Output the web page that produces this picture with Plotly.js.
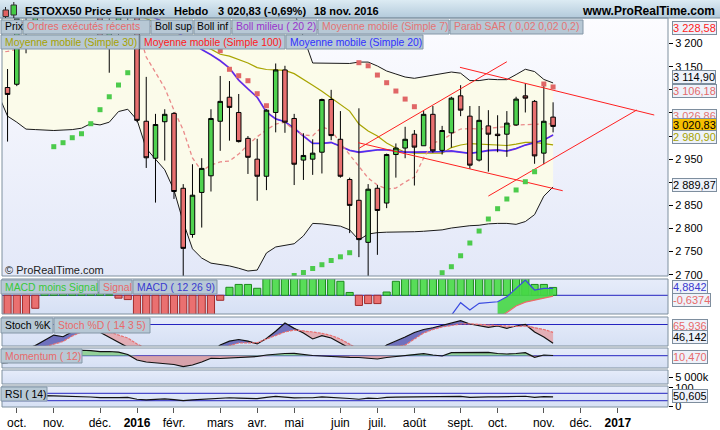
<!DOCTYPE html>
<html><head><meta charset="utf-8">
<script src="https://cdn.plot.ly/plotly-3.0.1.min.js"></script>
<style>html,body{margin:0;padding:0;background:#fff;}#chart{width:720px;height:430px;}</style>
</head><body><div id="chart"></div>
<script>
// ---------- DATA (weekly candles, Monday of each week) ----------
const dates = ['2015-09-21','2015-09-28','2015-10-05','2015-10-12','2015-10-19','2015-10-26','2015-11-02','2015-11-09','2015-11-16','2015-11-23','2015-11-30','2015-12-07','2015-12-14','2015-12-21','2015-12-28',
'2016-01-04','2016-01-11','2016-01-18','2016-01-25','2016-02-01','2016-02-08','2016-02-15','2016-02-22','2016-02-29','2016-03-07','2016-03-14','2016-03-21','2016-03-28','2016-04-04','2016-04-11','2016-04-18','2016-04-25','2016-05-02','2016-05-09','2016-05-16','2016-05-23','2016-05-30','2016-06-06','2016-06-13','2016-06-20','2016-06-27','2016-07-04','2016-07-11','2016-07-18','2016-07-25','2016-08-01','2016-08-08','2016-08-15','2016-08-22','2016-08-29','2016-09-05','2016-09-12','2016-09-19','2016-09-26','2016-10-03','2016-10-10','2016-10-17','2016-10-24','2016-10-31','2016-11-07','2016-11-14'];
const open = [3105,3105,3112,3250,3240,3410,3418,3420,3360,3450,3470,3290,3205,3235,3285,
3288,3032,2952,3031,3049,2887,2787,2878,2914,3032,3084,3051,2995,2950,2913,3051,3143,3038,2948,2950,2965,3079,2993,2906,2861,2770,2887,2855,2960,2974,3004,2979,3047,2969,3007,3087,3043,2948,3022,3004,3004,3024,3087,3075,2963,3041];
const high = [3160,3145,3265,3275,3420,3440,3475,3440,3460,3480,3506,3300,3280,3290,3300,
3292,3128,3048,3058,3052,2896,2939,2952,3058,3130,3119,3091,3000,2994,3058,3157,3152,3048,3006,2993,3081,3100,3054,2910,3060,2896,2894,2962,2984,3020,3013,3054,3065,3022,3085,3110,3065,3065,3056,3045,3054,3085,3114,3078,3114,3073];
const low = [3030,2988,3108,3179,3225,3370,3390,3330,3330,3420,3255,3195,3137,3210,3245,
3030,2931,2856,2947,2864,2672,2780,2802,2880,2968,2990,2986,2918,2860,2883,3008,3007,2894,2905,2916,2919,2991,2910,2790,2738,2678,2743,2844,2910,2952,2893,2979,2964,2960,2975,3043,2929,2945,2923,2965,2955,3022,3051,2940,2939,3008];
const close = [3100,3090,3255,3240,3410,3418,3420,3360,3450,3470,3290,3205,3235,3285,3268,
3034,2953,3025,3047,2880,2757,2872,2930,3038,3075,3062,2988,2954,2913,3056,3143,3030,2939,2958,2963,3079,3001,2913,2850,2776,2885,2839,2960,2974,2993,2976,3047,2968,3012,3082,3056,2937,3034,3004,3001,3028,3080,3082,2957,3032,3020.83];

const bollUp = [3750,3757,3740,3725,3706,3687,3678,3657,3636,3613,3573,3556,3540,3507,3502,
3515,3557,3560,3563,3577,3616,3644,3638,3628,3605,3575,3528,3496,3459,3357,3313,3299,3267,3215,3158,3158,3158,3158,3157,3160,3160,3151.5,3140.7,3134.2,3127.7,3124.9,3128.4,3130.5,3134.2,3138.5,3136,3120,3120,3123,3122,3122,3133,3144.5,3139.5,3122.5,3114.90];
const bollLow = [3090,3043,3030,3015,3014,3013,3012,3013,3014,3017,3027,3024,3030,3053,3058,
3035,2973,2950,2927,2883,2814,2756,2736,2725,2722,2719,2714,2708,2710,2747,2760,2764,2767,2784,2811,2810,2807,2805,2797,2775,2788,2791,2792,2792,2792,2793,2794,2796,2797,2801,2804,2806,2807,2810,2811,2811,2809,2815,2830,2870,2889.87];
const sma20 = [3420,3400,3385,3370,3360,3350,3345,3335,3325,3315,3300,3290,3285,3280,3280,
3275,3265,3255,3245,3230,3215,3200,3187,3176,3163,3147,3121,3102,3084,3052,3037,3031,3017,3000,2984,2984,2986,2978,2969,2965,2967,2970,2970,2968,2965,2965,2965,2966,2966.5,2967.6,2965.4,2962.6,2965.4,2968.7,2969.8,2967.6,2973,2980.6,2986,2991.4,3002.38];
const sma7 = [3182,3183,3188,3200,3225,3258,3290,3320,3350,3385,3400,3390,3372,3350,3300,
3240,3171,3139,3104,3056,3013,2952.5,2924.3,2937.3,2944,2946,2961,2980.6,2998.5,3013,3026,3029.7,3013,3002.2,3000.7,3019.5,3013,2985,2959,2933,2909,2894,2885.4,2887.5,2900.5,2911.4,2952.5,2985,2991.4,3004.4,3015.2,3016.3,3015.2,3016.7,3018,3020.6,3023.9,3025,3025.6,3026,3026.86];
const sma30 = [3408,3395,3382,3370,3358,3345,3332,3320,3310,3300,3292,3285,3278,3272,3268,
3262,3254,3246,3238,3228,3215,3205,3195,3188,3177,3173,3165,3158,3148,3144,3143,3142,3135,3123,3110,3097,3082,3067,3054,3026,3011,3000,2985,2974,2965,2963,2963,2963,2963,2975,2980.6,2983.8,2982.7,2981.6,2980.6,2979.5,2982.7,2986.4,2986.4,2984.3,2980.90];
const sma100 = [3246,3246,3245,3245,3244,3244,3243,3243,3242,3242,3241,3241,3240,3240,3239,
3239,3238,3237,3237,3236,3235,3234,3234,3233,3233,3233,3232,3232,3232,3231,3231,3231,3231,3230,3230,3230,3230,3230,3229.8,3229.6,3229.5,3229.4,3229.3,3229.2,3229.1,3229,3229,3229,3229,3228.9,3228.9,3228.8,3228.8,3228.7,3228.7,3228.7,3228.6,3228.6,3228.6,3228.6,3228.58];
const sar = [3560,3540,3520,3505,3490,3475,2977,2985.6,2996.4,3005,3026.7,3057,3085,3110.4,3137,
3506,3490,3460,3420,3380,3330,3280,3240,3205,3184.6,3144.4,3130.5,3119.7,3091.6,3065.6,2672,2682,2698.3,2704.7,2713.4,2721.6,2730.7,2738.7,2747.6,3158.7,3152,3132,3115.4,3097.4,3080,3063.5,2678,2689,2704.3,2717.3,2741,2768.6,2794.5,2820.5,2842.8,2863.8,2883.3,2901.2,2922.8,3112.6,3106.18];
const sarUp = [0,0,0,0,0,0,1,1,1,1,1,1,1,1,1,
0,0,0,0,0,0,0,0,0,0,0,0,0,0,0,1,1,1,1,1,1,1,1,1,0,0,0,0,0,0,0,1,1,1,1,1,1,1,1,1,1,1,1,1,0,0];

const macdHist = [-16,-15,-15,-14,-9.1,3,5,5,4,4,3,2,0.5,-2,-3,
-20,-30,-32,-30,-30,-32,-28,-22,-15,-3.5,5.6,7.6,7.6,4.9,14,18,20,19,17,15,16,15,9.8,2,-7.1,-5.8,-5.8,2.3,9.8,14,17,20,21,22,24,25,22,21,20,19,18,17,16,7.6,7.6,5.5];
const macdLine = [-150,-140,-122,-105,-86,-68,-55,-48,-40,-33,-30,-30,-30,-33,-34,
-52,-72,-82,-88,-100,-120,-125,-122,-110,-98,-86,-78,-73,-72,-60,-45,-36,-34,-33,-32,-26,-24,-26,-34,-46,-48,-50,-42,-35,-28,-24,-18,-17,-15,-14,-5.2,-10.3,-5.6,-4.9,-4.5,-1.0,4.9,10.7,3.7,4.9,4.8842];
const macdSignal = [-130,-128,-124,-120,-113,-104,-95,-86,-77,-68,-60,-54,-49,-46,-43,
-45,-50,-56,-62,-70,-80,-89,-96,-99,-99,-97,-93,-90,-86,-81,-74,-66,-60,-55,-50,-46,-42,-39,-38,-40,-42,-44,-44,-43,-41,-38,-35,-32,-29,-26,-22,-20,-18,-17,-16,-12,-7.5,-4.8,-3.4,-2,-0.6374];
const stochK = [20,25,32,36,42,52,61,58,67,72,73,66,57,47,38,
30,22,18,20,18,12,15,22,30,43,50,53,50,45,55,68,82.7,73,64.7,54,60,55.7,45.8,38,28,25,30,43,50,57.5,65.6,71,74.2,78.2,82.2,86.8,80.9,77.8,75,77.3,73.2,77.3,80,66.5,57.5,46.142];
const stochD = [22,22,25,30,35,40,44,49.4,59.3,66.5,70,69.2,66.5,61,55.7,
44.9,35,27,22,19,16,15,17,22,32,42,46.7,46.7,47.2,54,60,66.5,70,68.8,66.5,64.1,60.2,53.9,43,35,30,28,33,40,43,54,64.7,71,75.5,78.2,80.9,81.3,79.6,79.1,78.2,76.8,76.4,77.3,74.6,71,65.936];
const momentum = [-400,-385,-200,-100,60,150,250,260,280,300,275,220,230,200,66,
-236,-346,-385,-430,-484,-605,-511,-346,-143,-154,-126,-115,-88,-44,38,94,121,132,66,11,-16,-44,-88,-88,-99,-154,-181,-99,-44,38,94,110,38,-16,165,165,149,176,187,121,94,121,165,-88,38,10.47];
const rsi = [42,45,55,57,58,57,56,55,55,54,50,47,45,47,48,
38,34,38,40,36,30,35,38,44,46,46,44,43,41,48,53,49,45,46,46,51,49,45,42,38,44,42,48,49,50,49,52,49,51,54,53,48,51,51,51,52,54,54,48,52,50.605];

// user-drawn trend lines: [date1, price1, date2, price2]
const trendLines = [
  ['2016-06-20 02:00', 2973.5, '2016-10-10 00:00', 3160.8],
  ['2016-09-04 12:00', 3148.7, '2017-01-29 14:00', 3045.5],
  ['2016-06-19 12:00', 2985.6, '2016-11-21 07:00', 2881.7],
  ['2016-09-26 00:00', 2870.2, '2017-01-16 08:00', 3056.3]
];
const monthTicks = ['2015-10-05','2015-11-02','2015-12-07','2016-01-04','2016-02-01','2016-03-07','2016-04-04','2016-05-02','2016-06-06','2016-07-04','2016-08-01','2016-09-05','2016-10-03','2016-11-07','2016-12-05','2017-01-02'];
const monthLabels = ['oct.','nov.','déc.','<b>2016</b>','févr.','mars','avr.','mai','juin','juil.','août','sept.','oct.','nov.','déc.','<b>2017</b>'];
// price axis ticks (labels hidden behind value tags are left blank)
const priceTicks = [2700,2750,2800,2850,2900,2950,3000,3050,3100,3150,3200];
const priceTickText = ['2 700','2 750','2 800','2 850','2 900','2 950','','','','3 150','3 200'];

// ---------- LAYOUT HELPERS ----------
const W=720,H=430,ML=2,MR=52,PW=W-ML-MR;
const px = x => (x-ML)/PW;
const py = y => 1 - y/H;
const FONT = 'Arial, "Liberation Sans", sans-serif';
const xRange = ['2015-09-23 19:12','2017-02-09 00:00'];
const mainRange=[2697.2,3255.4], macdRange=[-13.08,11.4], stochRange=[41.3,93.5], momRange=[-677,424], volRange=[0,10000], rsiRange=[-4,109.5];
const last = a => a[a.length-1];
function fmt(v,d){const s=v.toFixed(d).split('.');const i=s[0].replace(/\B(?=(\d{3})+(?!\d))/g,' ');return s.length>1?i+','+s[1]:i;}
function grad(top,bottom){
  const svg='<svg xmlns="http://www.w3.org/2000/svg" width="10" height="100" preserveAspectRatio="none"><defs><linearGradient id="g" x1="0" y1="0" x2="0" y2="1"><stop offset="0" stop-color="'+top+'"/><stop offset="1" stop-color="'+bottom+'"/></linearGradient></defs><rect width="10" height="100" fill="url(#g)"/></svg>';
  return 'data:image/svg+xml;charset=utf-8,'+encodeURIComponent(svg);
}
function bgImg(x0,x1,y0,y1,top,bottom){
  return {source:grad(top,bottom),xref:'paper',yref:'paper',x:px(x0),y:py(y0),sizex:(x1-x0)/PW,sizey:(y1-y0)/H,xanchor:'left',yanchor:'top',sizing:'stretch',layer:'below'};
}

// ---------- TRACES ----------
const base = {hoverinfo:'skip',showlegend:false};
const noLine = {width:0,color:'rgba(0,0,0,0)'};
const traces = [];
traces.push(Object.assign({type:'scatter',mode:'lines',x:dates,y:bollLow,line:noLine},base));
traces.push(Object.assign({type:'scatter',mode:'lines',x:dates,y:bollUp,fill:'tonexty',fillcolor:'rgba(252,252,232,0.9)',line:noLine},base));
traces.push(Object.assign({type:'scatter',mode:'lines',x:dates,y:sma100,line:{width:1,color:'#ff1a1a'}},base));
traces.push(Object.assign({type:'scatter',mode:'lines',x:dates,y:sma30,line:{width:1.2,color:'#a8a400'}},base));
traces.push(Object.assign({type:'scatter',mode:'lines',x:dates,y:sma20,line:{width:1.8,color:'#9933cc'}},base));
traces.push(Object.assign({type:'scatter',mode:'lines',x:dates,y:sma20,line:{width:1,color:'#3535ff'}},base));
traces.push(Object.assign({type:'scatter',mode:'lines',x:dates,y:sma7,line:{width:1.3,color:'#ea8a8a',dash:'4px,3px'}},base));
traces.push(Object.assign({type:'scatter',mode:'lines',x:dates,y:bollUp,line:{width:1,color:'#1a1a1a'}},base));
traces.push(Object.assign({type:'scatter',mode:'lines',x:dates,y:bollLow,line:{width:1,color:'#1a1a1a'}},base));
traces.push({type:'candlestick',x:dates,open:open,high:high,low:low,close:close,whiskerwidth:0,yaxis:'y7',
  increasing:{line:{color:'#000',width:1},fillcolor:'#4fd24f'},
  decreasing:{line:{color:'#000',width:1},fillcolor:'#e87070'},hoverinfo:'skip',showlegend:false});
trendLines.forEach(t=>traces.push(Object.assign({type:'scatter',mode:'lines',x:[t[0],t[2]],y:[t[1],t[3]],yaxis:'y7',line:{width:1,color:'#ff2020'}},base)));
traces.push(Object.assign({type:'scatter',mode:'markers',x:dates,y:sar.map((v,i)=>sarUp[i]?v:null),yaxis:'y7',marker:{symbol:'square',size:5,color:'#4ccb4c'}},base));
traces.push(Object.assign({type:'scatter',mode:'markers',x:dates,y:sar.map((v,i)=>sarUp[i]?null:v),yaxis:'y7',marker:{symbol:'square',size:5,color:'#e06666'}},base));

const barW = 5.4*86400000;
traces.push(Object.assign({type:'bar',x:dates,y:macdHist.map(v=>v>=0?v:null),yaxis:'y2',width:barW,marker:{color:'#58dd58',line:{color:'#1c8a1c',width:1}}},base));
traces.push(Object.assign({type:'bar',x:dates,y:macdHist.map(v=>v<0?v:null),yaxis:'y2',width:barW,marker:{color:'#ea7070',line:{color:'#a02c2c',width:1}}},base));
const i0 = Math.max(0, macdSignal.findIndex(v=>v>macdRange[0]) - 1);
traces.push(Object.assign({type:'scatter',mode:'lines',x:dates.slice(i0),y:macdSignal.slice(i0),yaxis:'y2',line:noLine},base));
traces.push(Object.assign({type:'scatter',mode:'lines',x:dates.slice(i0),y:macdLine.slice(i0),yaxis:'y2',fill:'tonexty',fillcolor:'rgba(70,215,70,0.9)',line:noLine},base));
traces.push(Object.assign({type:'scatter',mode:'lines',x:dates,y:macdLine,yaxis:'y2',line:{width:1.2,color:'#3a4ae0'}},base));
traces.push(Object.assign({type:'scatter',mode:'lines',x:dates,y:macdSignal,yaxis:'y2',line:{width:1.2,color:'#ee6a6a'}},base));

const stochMax = stochK.map((k,i)=>Math.max(k,stochD[i]));
traces.push(Object.assign({type:'scatter',mode:'lines',x:dates,y:stochD,yaxis:'y3',line:noLine},base));
traces.push(Object.assign({type:'scatter',mode:'lines',x:dates,y:stochMax,yaxis:'y3',fill:'tonexty',fillcolor:'rgba(88,88,178,0.82)',line:noLine},base));
traces.push(Object.assign({type:'scatter',mode:'lines',x:dates,y:stochK,yaxis:'y3',line:noLine},base));
traces.push(Object.assign({type:'scatter',mode:'lines',x:dates,y:stochMax,yaxis:'y3',fill:'tonexty',fillcolor:'rgba(228,165,170,0.85)',line:noLine},base));
traces.push(Object.assign({type:'scatter',mode:'lines',x:dates,y:stochK,yaxis:'y3',line:{width:1.2,color:'#111'}},base));
traces.push(Object.assign({type:'scatter',mode:'lines',x:dates,y:stochD,yaxis:'y3',line:{width:1.2,color:'#e87070',dash:'3px,1px'}},base));

traces.push(Object.assign({type:'scatter',mode:'lines',x:dates,y:momentum.map(v=>Math.max(v,0)),yaxis:'y4',fill:'tozeroy',fillcolor:'rgba(120,200,120,0.75)',line:noLine},base));
traces.push(Object.assign({type:'scatter',mode:'lines',x:dates,y:momentum.map(v=>Math.min(v,0)),yaxis:'y4',fill:'tozeroy',fillcolor:'rgba(214,140,145,0.75)',line:noLine},base));
traces.push(Object.assign({type:'scatter',mode:'lines',x:dates,y:momentum,yaxis:'y4',line:{width:1.2,color:'#111'}},base));
traces.push(Object.assign({type:'scatter',mode:'lines',x:[dates[0]],y:[null],yaxis:'y5'},base));
traces.push(Object.assign({type:'scatter',mode:'lines',x:dates,y:rsi,yaxis:'y6',line:{width:1.2,color:'#111'}},base));

// ---------- SHAPES / ANNOTATIONS ----------
const shapes=[], annotations=[];
const panels = [['y',18,276],['y2',279,314],['y3',317,346],['y4',348,368],['y5',370,384],['y6',386,407]];
panels.forEach(p=>shapes.push({type:'rect',xref:'paper',x0:0,x1:1,yref:p[0]+' domain',y0:0,y1:1,line:{color:'#7f909f',width:1},fillcolor:'rgba(0,0,0,0)',layer:'above'}));
[['y2',0],['y3',80],['y4',0],['y6',70],['y6',30]].forEach(r=>shapes.push({type:'line',xref:'paper',x0:0,x1:1,yref:r[0],y0:r[1],y1:r[1],line:{color:'#2424c0',width:1},layer:'below'}));
shapes.push({type:'line',xref:'paper',yref:'paper',x0:px(0),x1:px(720),y0:py(18),y1:py(18),line:{color:'#7f93a3',width:1}});
shapes.push({type:'line',xref:'paper',yref:'paper',x0:px(5.5),x1:px(5.5),y0:py(7),y1:py(18),line:{color:'#222',width:1}});
shapes.push({type:'rect',xref:'paper',yref:'paper',x0:px(3),x1:px(8.5),y0:py(16.5),y1:py(10),fillcolor:'#e06060',line:{color:'#333',width:1}});
shapes.push({type:'line',xref:'paper',yref:'paper',x0:px(13.8),x1:px(13.8),y0:py(2),y1:py(18),line:{color:'#222',width:1}});
shapes.push({type:'rect',xref:'paper',yref:'paper',x0:px(11),x1:px(16.5),y0:py(15),y1:py(5),fillcolor:'#44cc44',line:{color:'#333',width:1}});

const legendItems = [
 ['Prix',1,22,20,34,'#000'],['Ordres exécutés récents',23,150,20,34,'#e86a6a'],['Boll sup',151,193,20,34,'#000'],['Boll inf',194,231,20,34,'#000'],
 ['Boll milieu ( 20 2)',232,317,20,34,'#9933cc'],['Moyenne mobile (Simple 7)',318,449,20,34,'#e47474'],['Parab SAR ( 0,02 0,02 0,2)',450,583,20,34,'#e47474'],
 ['Moyenne mobile (Simple 30)',1,139,35,49,'#a6a200'],['Moyenne mobile (Simple 100)',140,285,35,49,'#ff1a1a'],['Moyenne mobile (Simple 20)',286,423,35,49,'#3030ff'],
 ['MACD moins Signal',1,98,280,294,'#38c838'],['Signal',99,132,280,294,'#e86a6a'],['MACD ( 12 26 9)',133,217,280,294,'#3a3ad0'],
 ['Stoch %K',1,53,318,333,'#000'],['Stoch %D ( 14 3 5)',54,150,318,333,'#e86a6a'],
 ['Momentum ( 12)',1,82,349,363,'#e86a6a'],
 ['RSI ( 14)',1,47,387,401,'#000']
];
legendItems.forEach(l=>{
  shapes.push({type:'rect',xref:'paper',yref:'paper',x0:px(l[1]),x1:px(l[2]),y0:py(l[4]),y1:py(l[3]),fillcolor:'#b7c8d5',line:{color:'#8497a7',width:1},layer:'above'});
  annotations.push({xref:'paper',yref:'paper',x:px(l[1]+1.5),y:py((l[3]+l[4])/2),xanchor:'left',yanchor:'middle',text:l[0],showarrow:false,font:{size:10.4,color:l[5],family:FONT}});
});

[['<b>ESTOXX50 Price Eur Index</b>',23],['<b>Hebdo</b>',172],['<b>'+fmt(last(close),2)+' (-0,69%)</b>',216],['<b>18 nov. 2016</b>',312]].forEach(t=>
  annotations.push({xref:'paper',yref:'paper',x:px(t[1]),y:py(11),xanchor:'left',yanchor:'middle',text:t[0],showarrow:false,font:{size:11,color:'#000',family:FONT}}));
annotations.push({xref:'paper',yref:'paper',x:px(717),y:py(11),xanchor:'right',yanchor:'middle',text:'<b>www.ProRealTime.com</b>',showarrow:false,font:{size:12,color:'#000',family:FONT}});
annotations.push({xref:'paper',yref:'paper',x:px(3),y:py(270),xanchor:'left',yanchor:'middle',text:'© ProRealTime.com',showarrow:false,font:{size:11,color:'#222',family:FONT}});

// right-side value tags: [value, decimals, text colour, background, axis, yshift]
const tags = [
 [last(sma100),2,'#ff1a1a','#eef2fa','y',2],
 [last(bollUp),2,'#000','#eef2fa','y',6],
 [last(sar),2,'#e46a6a','#eef2fa','y',-4],
 [last(sma7),2,'#e47474','#eef2fa','y',7.6],
 [last(sma20),2,'#9933cc','#eef2fa','y',4],
 [last(close),2,'#000','#f6bf00','y',1.4],
 [last(sma30),2,'#a6a200','#eef2fa','y',7.4],
 [last(bollLow),2,'#000','#eef2fa','y',2],
 [last(macdLine),4,'#3a3ad0','#eef2fa','y2',1],
 [last(macdSignal),4,'#e86a6a','#eef2fa','y2',-4],
 [last(stochD),3,'#e86a6a','#eef2fa','y3',6],
 [last(stochK),3,'#000','#eef2fa','y3',6],
 [last(momentum),3,'#e86a6a','#eef2fa','y4',-1],
 [last(rsi),3,'#000','#eef2fa','y6',1]
];
tags.forEach(t=>annotations.push({xref:'paper',yref:t[4],x:px(672),y:t[0],yshift:t[5],xanchor:'left',yanchor:'middle',text:fmt(t[0],t[1]),showarrow:false,height:12,
  font:{size:11,color:t[2],family:FONT},bgcolor:t[3],bordercolor:'#7e8e9e',borderwidth:1,borderpad:0}));

const images = [
  bgImg(0,720,0,18,'#dcebf3','#b3cadb'),
  bgImg(2,668,18,276,'#fcfcff','#e3e8f8'),
  bgImg(2,668,279,314,'#e6ecfa','#d6e0f4'),
  bgImg(2,668,317,346,'#e6ecfa','#d6e0f4'),
  bgImg(2,668,348,368,'#e6ecfa','#d6e0f4'),
  bgImg(2,668,370,384,'#e6ecfa','#d6e0f4'),
  bgImg(2,668,386,407,'#e6ecfa','#d6e0f4')
];

const yBase = {anchor:'x',side:'right',showgrid:false,zeroline:false,showline:false,fixedrange:true,tickfont:{size:11,color:'#000',family:FONT},ticks:'outside',ticklen:4,tickcolor:'#000'};
const layout = {
  width:W,height:H,margin:{l:ML,r:MR,t:0,b:0,pad:0},paper_bgcolor:'#ffffff',plot_bgcolor:'rgba(0,0,0,0)',
  separators:', ',showlegend:false,barmode:'overlay',hovermode:false,font:{family:FONT,size:11,color:'#000'},
  xaxis:{type:'date',range:xRange,anchor:'y6',domain:[0,1],tickvals:monthTicks,ticktext:monthLabels,ticks:'outside',ticklen:5,tickcolor:'#555',
    tickfont:{size:12,color:'#000',family:FONT},showgrid:false,zeroline:false,showline:false,rangeslider:{visible:false},fixedrange:true},
  yaxis:Object.assign({},yBase,{domain:[py(276),py(18)],range:mainRange,tickvals:priceTicks,ticktext:priceTickText}),
  yaxis7:{overlaying:'y',anchor:'x',range:mainRange,visible:false,showgrid:false,zeroline:false,fixedrange:true},
  yaxis2:Object.assign({},yBase,{domain:[py(314),py(279)],range:macdRange,showticklabels:false,ticks:''}),
  yaxis3:Object.assign({},yBase,{domain:[py(346),py(317)],range:stochRange,showticklabels:false,ticks:''}),
  yaxis4:Object.assign({},yBase,{domain:[py(368),py(348)],range:momRange,showticklabels:false,ticks:''}),
  yaxis5:Object.assign({},yBase,{domain:[py(384),py(370)],range:volRange,tickvals:[5000],ticktext:['5 000k']}),
  yaxis6:Object.assign({},yBase,{domain:[py(407),py(386)],range:rsiRange,tickvals:[0,100],ticktext:['0','100']}),
  shapes:shapes,annotations:annotations,images:images
};
Plotly.newPlot('chart',traces,layout,{staticPlot:true,displayModeBar:false});
</script></body></html>
